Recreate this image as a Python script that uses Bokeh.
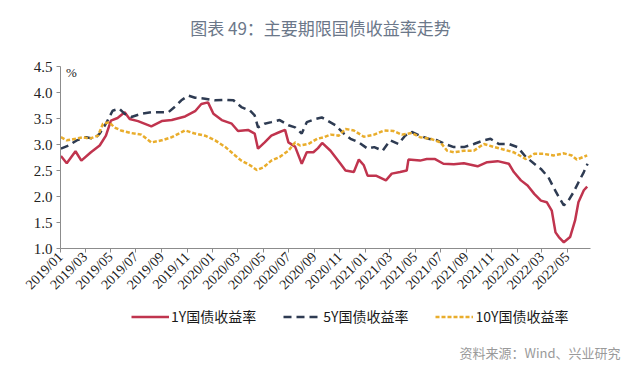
import pandas as pd
from bokeh.plotting import figure
from bokeh.layouts import column
from bokeh.models import (FixedTicker, DatetimeTickFormatter, Legend, LegendItem,
                          Label, Range1d, NumeralTickFormatter)
from bokeh.embed import file_html
from bokeh.resources import INLINE
from math import pi

chart_title = "图表 49：主要期限国债收益率走势"
source_text = "资料来源：Wind、兴业研究"
series_names = ["1Y国债收益率", "5Y国债收益率", "10Y国债收益率"]

dates_1y = ["2019-01-02", "2019-01-16", "2019-02-06", "2019-02-20", "2019-03-15", "2019-04-05",
            "2019-04-20", "2019-05-02", "2019-05-18", "2019-06-04", "2019-06-16", "2019-07-06",
            "2019-08-07", "2019-09-01", "2019-09-25", "2019-10-27", "2019-11-20", "2019-12-05",
            "2019-12-21", "2020-01-03", "2020-01-23", "2020-02-16", "2020-03-02", "2020-03-26",
            "2020-04-11", "2020-04-19", "2020-05-05", "2020-05-21", "2020-06-10", "2020-06-23",
            "2020-07-01", "2020-07-17", "2020-08-02", "2020-08-14", "2020-08-30", "2020-09-10",
            "2020-09-20", "2020-10-10", "2020-11-03", "2020-11-15", "2020-12-05", "2020-12-17",
            "2020-12-29", "2021-01-07", "2021-01-27", "2021-02-20", "2021-03-06", "2021-03-26",
            "2021-04-11", "2021-04-15", "2021-05-13", "2021-05-29", "2021-06-18", "2021-07-08",
            "2021-08-02", "2021-08-26", "2021-09-28", "2021-10-21", "2021-11-15", "2021-12-12",
            "2021-12-24", "2022-01-10", "2022-01-26", "2022-02-11", "2022-02-27", "2022-03-13",
            "2022-03-25", "2022-04-03", "2022-04-11", "2022-04-23", "2022-05-08", "2022-05-20",
            "2022-05-28", "2022-06-10", "2022-06-18"]
vals_1y = [2.78, 2.64, 2.87, 2.69, 2.85, 2.98,
           3.17, 3.46, 3.51, 3.62, 3.49, 3.45,
           3.35, 3.45, 3.47, 3.54, 3.64, 3.78,
           3.81, 3.59, 3.47, 3.40, 3.26, 3.28,
           3.21, 2.92, 3.04, 3.17, 3.24, 3.28,
           3.04, 2.96, 2.63, 2.85, 2.85, 2.93,
           3.03, 2.88, 2.63, 2.50, 2.47, 2.71,
           2.60, 2.40, 2.40, 2.31, 2.44, 2.47,
           2.50, 2.71, 2.69, 2.72, 2.72, 2.63,
           2.62, 2.64, 2.58, 2.66, 2.68, 2.63,
           2.47, 2.31, 2.21, 2.05, 1.92, 1.89,
           1.73, 1.31, 1.22, 1.12, 1.22, 1.54,
           1.89, 2.12, 2.19]

dates_5y = ["2019-01-02", "2019-01-20", "2019-02-09", "2019-03-03", "2019-03-23", "2019-04-05",
            "2019-04-20", "2019-05-06", "2019-05-22", "2019-06-04", "2019-06-20", "2019-07-14",
            "2019-08-07", "2019-09-01", "2019-09-17", "2019-10-06", "2019-10-18", "2019-11-04",
            "2019-11-20", "2019-12-14", "2020-01-07", "2020-02-01", "2020-02-20", "2020-03-10",
            "2020-03-31", "2020-04-11", "2020-04-19", "2020-05-05", "2020-05-21", "2020-06-10",
            "2020-07-01", "2020-07-17", "2020-08-02", "2020-08-14", "2020-09-03", "2020-09-19",
            "2020-10-22", "2020-11-11", "2020-11-27", "2020-12-17", "2021-01-07", "2021-01-23",
            "2021-02-12", "2021-03-02", "2021-03-22", "2021-04-07", "2021-04-23", "2021-05-13",
            "2021-06-02", "2021-06-23", "2021-07-12", "2021-08-02", "2021-08-26", "2021-09-19",
            "2021-10-13", "2021-10-29", "2021-11-18", "2021-12-12", "2022-01-02", "2022-01-22",
            "2022-02-11", "2022-02-27", "2022-03-17", "2022-03-29", "2022-04-11", "2022-04-23",
            "2022-05-04", "2022-05-16", "2022-05-28", "2022-06-10", "2022-06-19"]
vals_5y = [2.92, 2.98, 3.08, 3.14, 3.11, 3.21,
           3.40, 3.65, 3.69, 3.59, 3.53, 3.59,
           3.62, 3.62, 3.62, 3.75, 3.85, 3.94,
           3.90, 3.88, 3.85, 3.86, 3.85, 3.72,
           3.65, 3.56, 3.33, 3.40, 3.43, 3.47,
           3.37, 3.33, 3.21, 3.43, 3.49, 3.52,
           3.37, 3.21, 3.11, 3.04, 2.92, 2.95,
           2.88, 3.08, 3.01, 3.17, 3.24, 3.17,
           3.11, 3.08, 3.01, 2.95, 2.95, 3.01,
           3.08, 3.11, 3.01, 3.01, 2.95, 2.76,
           2.63, 2.53, 2.37, 2.18, 1.99, 1.83,
           1.92, 2.08, 2.27, 2.47, 2.63]

dates_10y = ["2019-01-02", "2019-01-16", "2019-02-06", "2019-02-25", "2019-03-11", "2019-04-01",
             "2019-04-13", "2019-04-28", "2019-05-10", "2019-05-26", "2019-06-20", "2019-07-14",
             "2019-08-07", "2019-09-01", "2019-09-25", "2019-10-27", "2019-11-20", "2019-12-14",
             "2020-01-07", "2020-02-01", "2020-02-24", "2020-03-10", "2020-03-31", "2020-04-16",
             "2020-05-02", "2020-05-21", "2020-06-10", "2020-07-01", "2020-07-17", "2020-07-29",
             "2020-08-18", "2020-09-08", "2020-09-24", "2020-10-10", "2020-10-30", "2020-11-15",
             "2020-12-05", "2020-12-29", "2021-01-23", "2021-02-16", "2021-03-10", "2021-03-30",
             "2021-04-23", "2021-05-13", "2021-06-07", "2021-07-01", "2021-07-17", "2021-08-02",
             "2021-08-26", "2021-09-19", "2021-10-13", "2021-11-07", "2021-12-01", "2021-12-24",
             "2022-01-22", "2022-02-11", "2022-03-05", "2022-03-29", "2022-04-23", "2022-05-12",
             "2022-05-24", "2022-06-18"]
vals_10y = [3.14, 3.08, 3.11, 3.14, 3.11, 3.17,
            3.40, 3.43, 3.33, 3.27, 3.22, 3.19,
            3.04, 3.08, 3.14, 3.27, 3.21, 3.17,
            3.08, 2.95, 2.79, 2.69, 2.60, 2.51,
            2.56, 2.69, 2.76, 2.88, 3.04, 2.98,
            3.01, 3.11, 3.14, 3.19, 3.17, 3.30,
            3.27, 3.15, 3.19, 3.27, 3.26, 3.19,
            3.22, 3.14, 3.11, 3.04, 2.88, 2.85,
            2.88, 2.88, 3.01, 2.95, 2.90, 2.85,
            2.72, 2.82, 2.82, 2.79, 2.83, 2.79,
            2.71, 2.79]

tick_dates = ["2019-01-01", "2019-03-01", "2019-05-01", "2019-07-01", "2019-09-01", "2019-11-01",
              "2020-01-01", "2020-03-01", "2020-05-01", "2020-07-01", "2020-09-01", "2020-11-01",
              "2021-01-01", "2021-03-01", "2021-05-01", "2021-07-01", "2021-09-01", "2021-11-01",
              "2022-01-01", "2022-03-01", "2022-05-01"]
y_ticks = [1.0, 1.5, 2.0, 2.5, 3.0, 3.5, 4.0, 4.5]

colors = ["#c0344e", "#2e3b52", "#e9ad2c"]
dashes = ["solid", "8 5", "4 2"]
serif = "Liberation Serif"
cjk = "Noto Sans CJK SC"
series = [(dates_1y, vals_1y), (dates_5y, vals_5y), (dates_10y, vals_10y)]


def blank_fig(h):
    f = figure(width=640, height=h, min_border=0, x_range=Range1d(0, 640), y_range=Range1d(0, h),
               x_axis_location=None, y_axis_location=None, output_backend="svg",
               toolbar_location=None)
    f.outline_line_color = None
    f.xgrid.visible = False
    f.ygrid.visible = False
    f.border_fill_color = "white"
    return f


# --- title strip ---
top = blank_fig(56)
top.add_layout(Label(x=320, y=29, x_units="screen", y_units="screen", text=chart_title,
                     text_align="center", text_baseline="middle", text_font=cjk,
                     text_font_size="17px", text_color="#6b7789"))

# --- main chart ---
p = figure(frame_width=530, frame_height=182,
           min_border_left=60, min_border_right=50, min_border_top=10, min_border_bottom=54,
           x_axis_type="datetime", output_backend="svg", toolbar_location=None,
           x_range=Range1d(pd.Timestamp("2019-01-01"), pd.Timestamp("2022-06-26")),
           y_range=Range1d(1.0, 4.5))
p.outline_line_color = None
p.xgrid.visible = False
p.ygrid.visible = False
p.background_fill_color = "white"
p.border_fill_color = "white"

for (d, v), c, ds in zip(series, colors, dashes):
    p.line(pd.to_datetime(d), v, line_color=c, line_width=2.5, line_dash=ds)

tick_ms = [pd.Timestamp(d).value // 10**6 for d in tick_dates]
xa = p.xaxis[0]
xa.ticker = FixedTicker(ticks=tick_ms)
fmt = "%Y/%m"
xa.formatter = DatetimeTickFormatter(years=fmt, months=fmt, days=fmt, hours=fmt, minutes=fmt,
                                     seconds=fmt, milliseconds=fmt, microseconds=fmt, hourmin=fmt, minsec=fmt)
xa.major_label_orientation = pi / 4
xa.minor_tick_line_color = None
xa.major_tick_in = 0
xa.major_tick_out = 4
xa.axis_line_color = "#8c8c8c"
xa.major_tick_line_color = "#8c8c8c"
xa.major_label_text_font = serif
xa.major_label_text_font_size = "14px"
xa.major_label_text_color = "#222222"
xa.major_label_standoff = 2

ya = p.yaxis[0]
ya.ticker = FixedTicker(ticks=y_ticks)
ya.formatter = NumeralTickFormatter(format="0.0")
ya.minor_tick_line_color = None
ya.major_tick_in = 0
ya.major_tick_out = 4
ya.axis_line_color = "#8c8c8c"
ya.major_tick_line_color = "#8c8c8c"
ya.major_label_text_font = serif
ya.major_label_text_font_size = "15px"
ya.major_label_text_color = "#222222"
ya.major_label_standoff = 4

p.add_layout(Label(x=pd.Timestamp("2019-01-27"), y=4.385, text="%", text_align="center",
                   text_baseline="middle", text_font=serif, text_font_size="13px",
                   text_color="#222222"))

# --- legend + source strip (lines here fall outside this strip's ranges; only the legend shows) ---
bot = blank_fig(72)
items = []
for (d, v), name, c, ds in zip(series, series_names, colors, dashes):
    r = bot.line(pd.to_datetime(d), v, line_color=c, line_width=2.5, line_dash=ds)
    items.append(LegendItem(label=name, renderers=[r]))
legend = Legend(items=items, orientation="horizontal", location=(131, 48), padding=0, margin=0,
                spacing=27, glyph_width=38, glyph_height=15, label_standoff=2,
                label_text_font=cjk, label_text_font_size="14px", label_text_color="#1a1a1a",
                border_line_color=None, background_fill_alpha=0)
bot.add_layout(legend)
bot.add_layout(Label(x=620, y=22, x_units="screen", y_units="screen", text=source_text,
                     text_align="right", text_baseline="middle", text_font=cjk,
                     text_font_size="13px", text_color="#9a9a9a"))

layout = column(top, column(p), bot, spacing=0)
open("out.html", "w").write(file_html(layout, INLINE))
